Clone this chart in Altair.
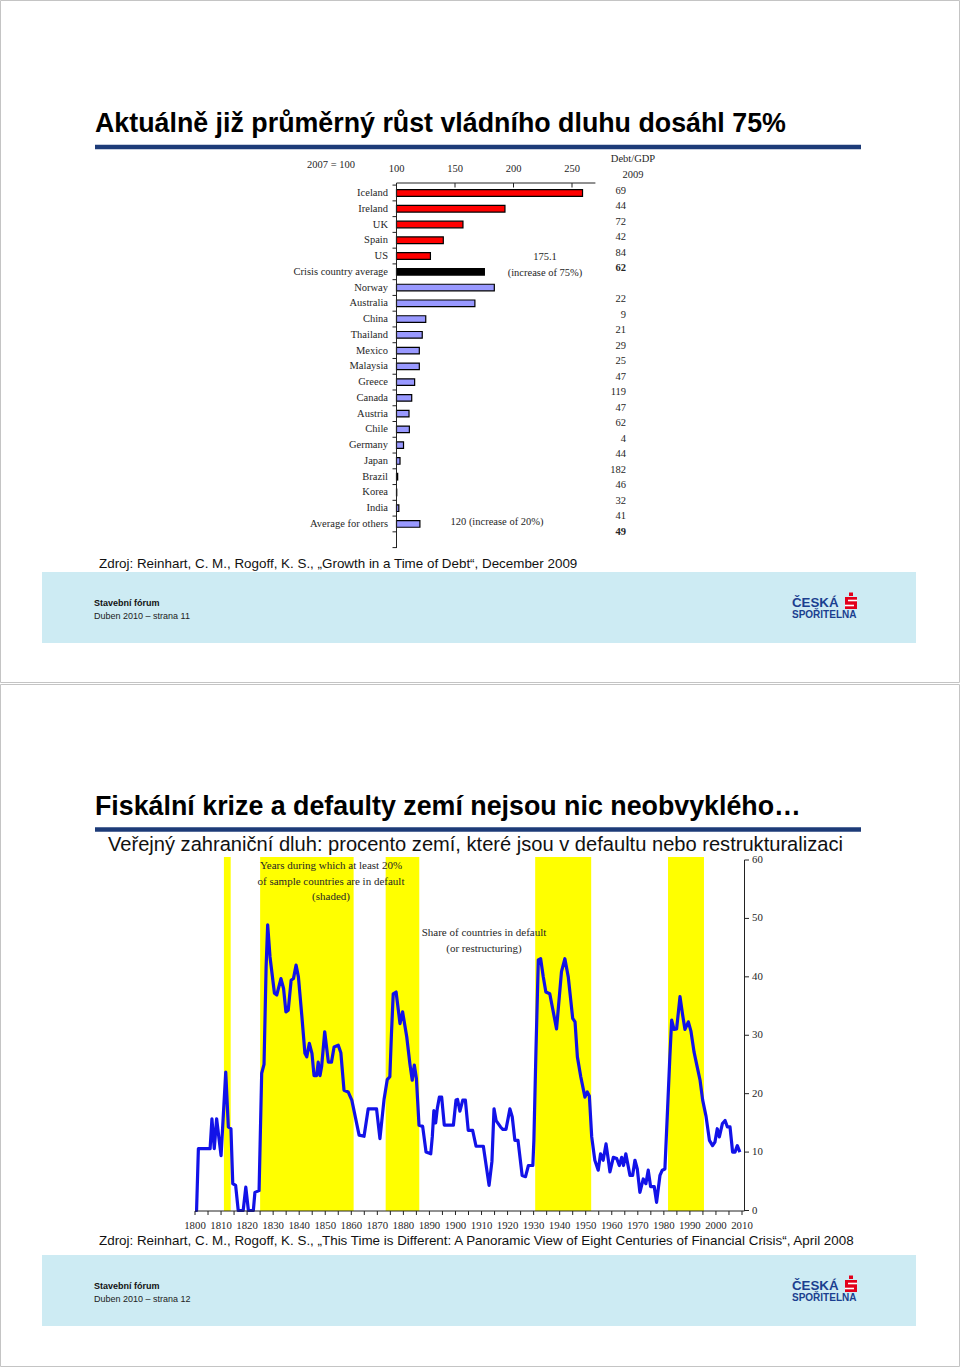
import altair as alt
import pandas as pd

# ---------------- data: slide 1 (bar chart) ----------------
countries = ["Iceland", "Ireland", "UK", "Spain", "US", "Crisis country average",
             "Norway", "Australia", "China", "Thailand", "Mexico", "Malaysia",
             "Greece", "Canada", "Austria", "Chile", "Germany", "Japan", "Brazil",
             "Korea", "India", "Average for others"]
growth = [259, 192.7, 156.8, 140, 129, 175.1,
          183.6, 167, 125, 122, 119.5, 119.5,
          115.5, 113, 110.7, 111, 106, 103, 101,
          100.2, 102, 120]
kinds = ["crisis"] * 5 + ["avg"] + ["other"] * 16
debt_top = [69, 44, 72, 42, 84, 62]
debt_bottom = [22, 9, 21, 29, 25, 47, 119, 47, 62, 4, 44, 182, 46, 32, 41, 49]
bar_ticks = [100, 150, 200, 250]

# ---------------- data: slide 2 (share in default) ----------------
years = [1800, 1800.6, 1801.3, 1805.8, 1806.5, 1807.4, 1808.3, 1810, 1811.8, 1812.8,
         1813.8, 1814.5, 1815.6, 1816.6, 1818.5, 1819.5, 1820.5, 1822.4, 1823, 1824.6,
         1825.6, 1826.5, 1827.3, 1827.9, 1828.8, 1830.5, 1831.4, 1833, 1834, 1834.9,
         1835.8, 1836.9, 1837.8, 1838.8, 1839.7, 1841, 1842.2, 1842.9, 1843.9, 1844.9,
         1845.7, 1846.7, 1847.3, 1848, 1848.6, 1849.8, 1850.5, 1851.2, 1852.4, 1853.4,
         1855, 1856, 1857.2, 1858.8, 1860.2, 1863, 1864.9, 1866.5, 1869.7, 1871,
         1872.6, 1873.8, 1874.8, 1875.4, 1876.1, 1877.2, 1878.7, 1879.7, 1881.3, 1882.5,
         1883.4, 1884.2, 1885, 1886, 1887.4, 1888.7, 1890.5, 1891.1, 1891.7, 1892.4,
         1893, 1893.8, 1894.7, 1895.7, 1899.2, 1900.2, 1900.8, 1901.7, 1902.8, 1903.8,
         1904.9, 1906.6, 1907.9, 1910.7, 1912.9, 1914, 1914.8, 1915.6, 1917.3, 1918.1,
         1919.4, 1920.9, 1921.8, 1922.8, 1924, 1925.6, 1926.9, 1928, 1929.7, 1930.1,
         1930.9, 1931.8, 1932.7, 1933.7, 1934.7, 1936.2, 1938.8, 1940.7, 1942, 1943.3,
         1945, 1945.9, 1946.8, 1948.1, 1949.7, 1950.6, 1951.4, 1952.3, 1953.5, 1954.8,
         1955.7, 1956.7, 1957.8, 1958.7, 1959.3, 1960.6, 1961.9, 1962.9, 1963.8, 1964.5,
         1965.4, 1967, 1968, 1968.9, 1969.8, 1970.8, 1972.1, 1973.1, 1974, 1974.9,
         1976.3, 1977.2, 1978.5, 1979.4, 1980.4, 1981.4, 1982.3, 1983, 1983.9, 1984.9,
         1986.2, 1987.2, 1988.1, 1989.4, 1990.4, 1991.6, 1992.8, 1993.9, 1994.9, 1996.2,
         1997.5, 1998.7, 1999.6, 2000.5, 2001.3, 2002.5, 2003.5, 2004.4, 2005.4, 2006.4,
         2007.3, 2008.2, 2009.2]
share = [0, 0, 10.6, 10.6, 15.7, 10.6, 15.7, 9.4, 23.7, 14.3,
         14, 4.6, 4.3, 0, 0, 4, 0, 0, 3.1, 3.4,
         23.5, 25, 41.7, 48.9, 43.4, 37.2, 36.9, 39.7, 38, 34,
         34.3, 39.4, 39.7, 42, 40, 33.4, 26.9, 26.3, 28.6, 26.9,
         23.1, 23.1, 25.4, 23.1, 24.6, 30.6, 28, 25.4, 25.4, 28,
         28.3, 27, 20.6, 20.3, 18.9, 12.9, 12.7, 17.4, 17.4, 12.3,
         19.1, 22.4, 22.9, 30, 37.1, 37.4, 32, 34, 29.7, 25.1,
         22.3, 24.9, 22.6, 14.6, 14.4, 10, 9.7, 12.6, 17.1, 15,
         17.4, 19.4, 19.4, 14.6, 14.6, 18.9, 19, 17, 18.9, 18.9,
         13.7, 13.7, 11, 11, 4.3, 8.4, 17.4, 15.4, 14.3, 13.9,
         13.9, 17.4, 16, 12, 12, 6, 5.8, 7.7, 7.7, 12,
         27.4, 42.9, 43.1, 40, 37.4, 37.1, 31.1, 40.9, 43.1, 40,
         32.9, 32.3, 26.3, 22.9, 19.4, 20.3, 19.6, 12.6, 8.6, 6.9,
         9.7, 8.6, 11.4, 8.6, 6.6, 9.1, 8.9, 7.7, 9.1, 7.7,
         9.7, 6, 6, 8.6, 7.1, 3.1, 5.4, 4.6, 6.9, 4.1,
         4.1, 1.4, 6, 6.9, 7.1, 17.1, 26.3, 32.6, 31, 31.1,
         36.6, 33.5, 31, 32.3, 30.7, 27.1, 24.6, 22.3, 18.9, 16.1,
         12, 11.1, 11.7, 14, 12.6, 14.9, 15.4, 14.3, 14.3, 10,
         10, 11.1, 10]
band_start = [1811.1, 1825, 1873.2, 1930.6, 1981.6]
band_end = [1813.7, 1860.9, 1886.1, 1952.1, 1995.4]
year_labels = list(range(1800, 2011, 10))
year_minor = list(range(1800, 2011, 5))
share_ticks = [0, 10, 20, 30, 40, 50, 60]

# ---------------- styling ----------------
SERIF = "Liberation Serif"
SANS = "Liberation Sans"
NAVY = "#1d3b78"
TXT = "#262626"
BLUE = "#1212e8"
FOOT = "#cdebf3"
LOGO = "#1b3f8f"
RED = "#e2001a"

ONE = pd.DataFrame({"k": [0]})


def vtext(s, x, y, size, font=SERIF, weight="normal", align="left",
          color=TXT, baseline="middle"):
    return alt.Chart(ONE).mark_text(
        fontSize=size, font=font, fontWeight=weight, align=align,
        baseline=baseline, color=color
    ).encode(x=alt.value(x), y=alt.value(y), text=alt.value(s))


def vrule(x1, y1, color, width, x2=None, y2=None):
    enc = {"x": alt.value(x1), "y": alt.value(y1)}
    if x2 is not None:
        enc["x2"] = alt.value(x2)
    if y2 is not None:
        enc["y2"] = alt.value(y2)
    return alt.Chart(ONE).mark_rule(color=color, strokeWidth=width).encode(**enc)


def vrect(x1, x2, y1, y2, fill, stroke=None, sw=0, fo=1):
    kw = {"fill": fill, "fillOpacity": fo}
    if stroke is not None:
        kw["stroke"] = stroke
        kw["strokeWidth"] = sw
    return alt.Chart(ONE).mark_rect(**kw).encode(
        x=alt.value(x1), x2=alt.value(x2), y=alt.value(y1), y2=alt.value(y2))


def footer(dy, page):
    return [
        vrect(42, 916, 572 + dy, 643 + dy, FOOT),
        vtext("Stavební fórum", 94, 603 + dy, 9, font=SANS, weight="bold", color="#111"),
        vtext("Duben 2010 – strana " + str(page), 94, 616 + dy, 9, font=SANS, color="#222"),
        vtext("ČESKÁ", 792, 602.5 + dy, 13.3, font=SANS, weight="bold", color=LOGO),
        vtext("SPOŘITELNA", 792, 614.5 + dy, 10, font=SANS, weight="bold", color=LOGO),
        vrect(845, 857, 597 + dy, 609 + dy, RED),
        vrect(849, 853, 592.5 + dy, 596 + dy, RED),
        vrule(848, 600.5 + dy, "white", 1.6, x2=857),
        vrule(845, 605.5 + dy, "white", 1.6, x2=854),
    ]


layers = []
# slide frames
layers.append(vrect(0.5, 959.5, 0.5, 682.5, "white", stroke="#c4c4c4", sw=1))
layers.append(vrect(0.5, 959.5, 684.5, 1366.5, "white", stroke="#c4c4c4", sw=1))

# ---------------- slide 1 ----------------
layers.append(vtext("Aktuálně již průměrný růst vládního dluhu dosáhl 75%", 95, 132,
                    26.8, font=SANS, weight="bold", color="#000", baseline="alphabetic"))
layers.append(vrule(95, 147, NAVY, 4.5, x2=861))

XS = alt.Scale(domain=[100, 270], range=[396.5, 595.4], nice=False, zero=False)
YB = alt.Scale(domain=countries + [" "], range=[185.1, 547.6],
               paddingInner=0.58, paddingOuter=0.29)

bar_df = pd.DataFrame({"country": countries, "growth": growth, "kind": kinds})

layers.append(
    alt.Chart(bar_df).mark_bar(stroke="black", strokeWidth=1.2).encode(
        x=alt.X("growth:Q", scale=XS, axis=None),
        x2=alt.datum(100),
        y=alt.Y("country:N", scale=YB, axis=None),
        color=alt.Color("kind:N", scale=alt.Scale(domain=["crisis", "avg", "other"],
                                                   range=["#ff0000", "#000000", "#9999ff"]),
                        legend=None),
    )
)
layers.append(
    alt.Chart(bar_df).mark_text(align="right", baseline="middle", font=SERIF,
                                fontSize=10.5, color=TXT).encode(
        x=alt.value(388),
        y=alt.Y("country:N", scale=YB, axis=None),
        text="country:N",
    )
)
# axes of bar chart
layers.append(vrule(396.5, 183, "#222", 1, x2=595.4))
layers.append(vrule(396.5, 183, "#222", 1, y2=548))
tick_df = pd.DataFrame({"t": bar_ticks})
layers.append(
    alt.Chart(tick_df).mark_rule(color="#222", strokeWidth=1).encode(
        x=alt.X("t:Q", scale=XS, axis=None), y=alt.value(183), y2=alt.value(187.5))
)
layers.append(
    alt.Chart(tick_df).mark_text(font=SERIF, fontSize=10.5, color=TXT,
                                 baseline="middle").encode(
        x=alt.X("t:Q", scale=XS, axis=None), y=alt.value(169), text="t:Q")
)
bnd_df = pd.DataFrame({"b": [i - 0.5 for i in range(len(countries) + 2)]})
layers.append(
    alt.Chart(bnd_df).mark_rule(color="#222", strokeWidth=1).encode(
        y=alt.Y("b:Q", scale=alt.Scale(domain=[-0.5, 22.5], range=[185.1, 547.6],
                                       nice=False, zero=False), axis=None),
        x=alt.value(392.5), x2=alt.value(396.5))
)
# Debt/GDP column
debt_df = pd.DataFrame({
    "v": debt_top + debt_bottom,
    "slot": list(range(6)) + list(range(7, 23)),
    "bold": [0, 0, 0, 0, 0, 1] + [0] * 15 + [1],
})
YD = alt.Scale(domain=[0, 22], range=[190.8, 531.5], nice=False, zero=False)
for b, w in [(0, "normal"), (1, "bold")]:
    layers.append(
        alt.Chart(debt_df).transform_filter(alt.datum.bold == b).mark_text(
            align="right", baseline="middle", font=SERIF, fontSize=10.5,
            fontWeight=w, color=TXT).encode(
            x=alt.value(626), y=alt.Y("slot:Q", scale=YD, axis=None), text="v:Q")
    )
layers += [
    vtext("2007 = 100", 331, 165, 10.5, align="center"),
    vtext("Debt/GDP", 633, 159, 10.5, align="center"),
    vtext("2009", 633, 175, 10.5, align="center"),
    vtext("175.1", 545, 257, 10.5, align="center"),
    vtext("(increase of 75%)", 545, 273, 10.5, align="center"),
    vtext("120 (increase of 20%)", 497, 522, 10.5, align="center"),
    vtext("Zdroj: Reinhart, C. M., Rogoff, K. S., „Growth in a Time of Debt“, December 2009",
          99, 564, 13.4, font=SANS, color="#111"),
]
layers += footer(0, 11)

# ---------------- slide 2 ----------------
layers.append(vtext("Fiskální krize a defaulty zemí nejsou nic neobvyklého…", 95, 815,
                    26.8, font=SANS, weight="bold", color="#000", baseline="alphabetic"))
layers.append(vrule(95, 829.5, NAVY, 4.5, x2=861))
layers.append(vtext("Veřejný zahraniční dluh: procento zemí, které jsou v defaultu nebo restrukturalizaci",
                    108, 851, 20.1, font=SANS, color="#111", baseline="alphabetic"))

XY = alt.Scale(domain=[1800, 2010], range=[195, 742], nice=False, zero=False)
YY = alt.Scale(domain=[0, 60], range=[1210.5, 860], nice=False, zero=False)

band_df = pd.DataFrame({"s": band_start, "e": band_end})
layers.append(
    alt.Chart(band_df).mark_rect(color="#ffff00").encode(
        x=alt.X("s:Q", scale=XY, axis=None), x2="e:Q",
        y=alt.value(857), y2=alt.value(1211))
)
line_df = pd.DataFrame({"year": years, "share": share})
layers.append(
    alt.Chart(line_df).mark_line(color=BLUE, strokeWidth=3.2, strokeJoin="round").encode(
        x=alt.X("year:Q", scale=XY, axis=None),
        y=alt.Y("share:Q", scale=YY, axis=None))
)
# axes
layers.append(vrule(195, 1211, "#222", 1, x2=744.5))
layers.append(vrule(744.5, 860, "#222", 1, y2=1211))
minor_df = pd.DataFrame({"t": year_minor})
layers.append(
    alt.Chart(minor_df).mark_rule(color="#222", strokeWidth=1).encode(
        x=alt.X("t:Q", scale=XY, axis=None), y=alt.value(1211), y2=alt.value(1215))
)
lab_df = pd.DataFrame({"t": year_labels})
layers.append(
    alt.Chart(lab_df).mark_text(font=SERIF, fontSize=10.8, color=TXT,
                                baseline="middle").encode(
        x=alt.X("t:Q", scale=XY, axis=None), y=alt.value(1226), text="t:Q")
)
st_df = pd.DataFrame({"v": share_ticks})
layers.append(
    alt.Chart(st_df).mark_rule(color="#222", strokeWidth=1).encode(
        y=alt.Y("v:Q", scale=YY, axis=None), x=alt.value(744.5), x2=alt.value(749))
)
layers.append(
    alt.Chart(st_df).mark_text(font=SERIF, fontSize=10.8, color=TXT, align="left",
                               baseline="middle").encode(
        y=alt.Y("v:Q", scale=YY, axis=None), x=alt.value(752), text="v:Q")
)
layers += [
    vtext("Years during which at least 20%", 331, 866, 11, align="center"),
    vtext("of sample countries are in default", 331, 881.5, 11, align="center"),
    vtext("(shaded)", 331, 897, 11, align="center"),
    vtext("Share of countries in default", 484, 933, 11, align="center"),
    vtext("(or restructuring)", 484, 948.5, 11, align="center"),
    vtext("Zdroj: Reinhart, C. M., Rogoff, K. S., „This Time is Different: A Panoramic View of "
          "Eight Centuries of Financial Crisis“, April 2008", 99, 1241, 13.4, font=SANS, color="#111"),
]
layers += footer(683, 12)

chart = alt.layer(*layers).resolve_scale(
    x="independent", y="independent", color="independent"
).properties(
    width=960, height=1367, padding=0,
    autosize=alt.AutoSizeParams(type="none"),
    background="white",
).configure_view(stroke=None)

chart.save("out.html", embed_options={"renderer": "svg", "actions": False})
